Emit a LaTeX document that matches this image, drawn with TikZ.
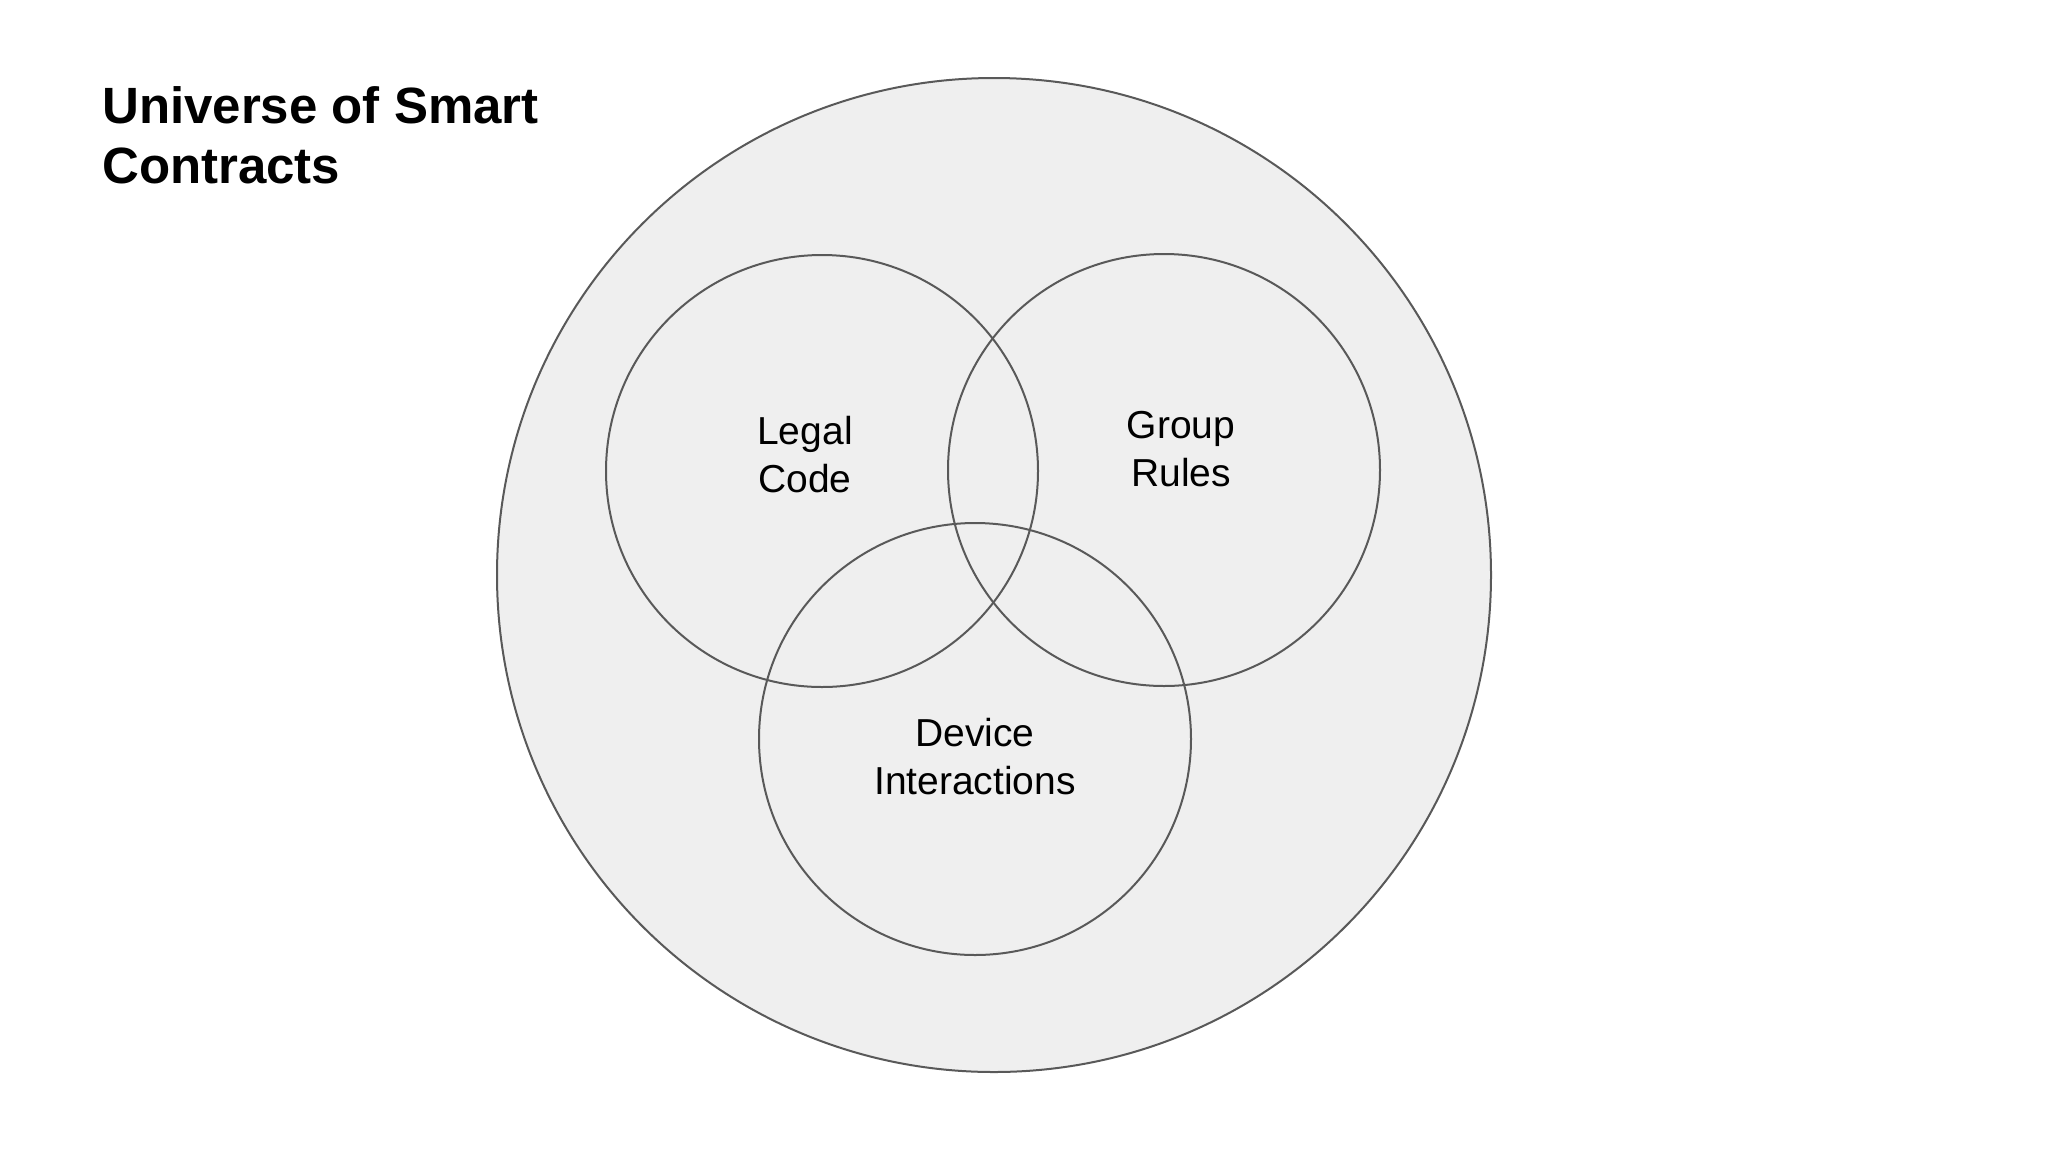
\documentclass[tikz,border=0pt]{standalone}
\usepackage{fontspec}
\setmainfont{Liberation Sans}
\definecolor{fillgray}{HTML}{EFEFEF}
\definecolor{linegray}{HTML}{595959}
\begin{document}
\begin{tikzpicture}[x=1pt,y=-1pt,
  ring/.style={draw=linegray,line width=2pt},
  label/.style={align=center,font=\fontsize{39}{47.5}\selectfont,inner sep=0pt,anchor=base},
  titletext/.style={font=\fontsize{51}{60}\selectfont\bfseries,inner sep=0pt,anchor=base west}]
\useasboundingbox (0,0) rectangle (2048,1152);
\fill[white] (0,0) rectangle (2048,1152);
\path[ring,fill=fillgray] (994,575) circle[radius=497] coordinate (universe);
\path[ring] (822,471) circle[radius=216] coordinate (legal);
\path[ring] (1164,470) circle[radius=216] coordinate (group);
\path[ring] (975,739) circle[radius=216] coordinate (device);
\node[titletext] (title) at (102,123) {Universe of Smart};
\node[titletext] (title2) at (102,183) {Contracts};
\node[label] (legaltxt) at (805,492) {Legal\\Code};
\node[label] (grouptxt) at (1181,486) {Group\\Rules};
\node[label] (devicetxt) at (975,794) {Device\\Interactions};
\end{tikzpicture}
\end{document}
